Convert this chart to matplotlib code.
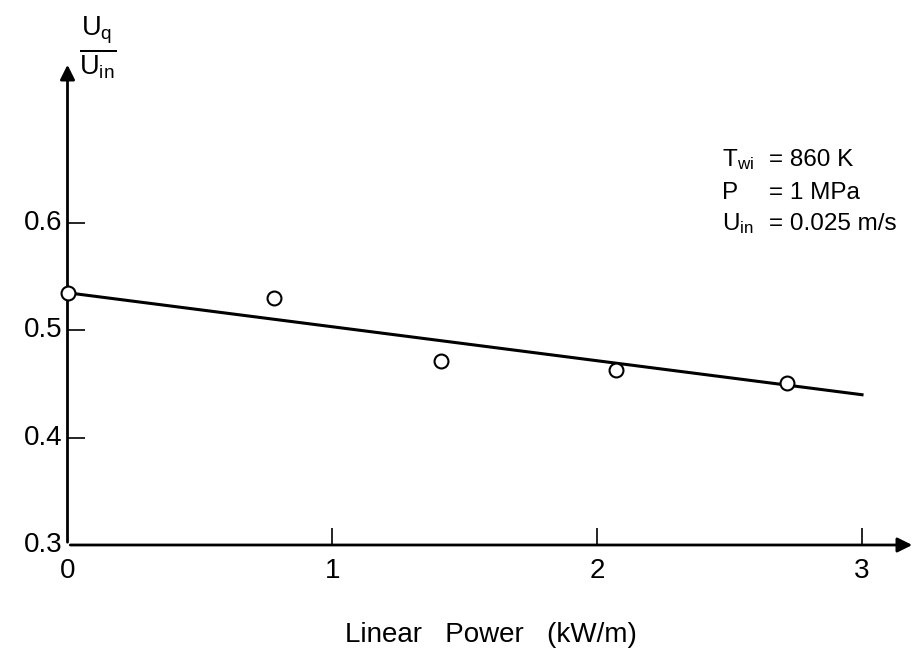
import numpy as np
import matplotlib
matplotlib.use('Agg')
import matplotlib.pyplot as plt

# data
power = [0.0, 0.78, 1.41, 2.07, 2.715]
ratio = [0.535, 0.530, 0.471, 0.4635, 0.451]
fit_x = [0.0, 3.0]
fit_y = [0.535, 0.440]
xticks = [1, 2, 3]
yticks = [0.4, 0.5, 0.6]

plt.rcParams['font.family'] = ['Liberation Sans', 'DejaVu Sans']
plt.rcParams['mathtext.fontset'] = 'custom'
plt.rcParams['mathtext.rm'] = 'Liberation Sans'
plt.rcParams['mathtext.it'] = 'Liberation Sans'

fig = plt.figure(figsize=(9.18, 6.58), dpi=100)
ax = fig.add_axes([67.5 / 918, 1 - 545 / 658, (915 - 67.5) / 918, (545 - 62) / 658])
ax.set_xlim(0, 3.2)
ax.set_ylim(0.3, 0.75)

for s in ax.spines.values():
    s.set_visible(False)

# axes with arrows
ax.annotate('', xy=(1, 0), xytext=(0, 0), xycoords='axes fraction',
            arrowprops=dict(arrowstyle='-|>', lw=2, color='black', mutation_scale=22))
ax.annotate('', xy=(0, 1), xytext=(0, 0), xycoords='axes fraction',
            arrowprops=dict(arrowstyle='-|>', lw=2, color='black', mutation_scale=22))

ax.plot(fit_x, fit_y, color='black', lw=2.2, zorder=3)
ax.plot(power, ratio, 'o', mfc='white', mec='black', mew=1.5, ms=10, zorder=4, clip_on=False)

ax.set_xticks(xticks)
ax.set_xticklabels([])
ax.set_yticks(yticks)
ax.set_yticklabels([])
ax.tick_params(direction='in', length=12, width=1.2, colors='black')

# tick labels drawn by hand so they sit like the original
for t in [0] + xticks:
    ax.text(t, 0.3 - 0.012, str(t), ha='center', va='top', fontsize=20)
for t in [0.3] + yticks:
    ax.text(-0.02, t, f'{t:.1f}', ha='right', va='center', fontsize=20, clip_on=False)

fig.text(0.535, 0.035, 'Linear   Power   (kW/m)', ha='center', va='center', fontsize=20)

fig.text(0.106, 0.928, r'$\frac{\mathrm{U_q}}{\mathrm{U_{in}}}$', ha='center', va='center', fontsize=28)

# condition block, "=" signs aligned
fig.text(0.787, 0.757, r'T$_{\mathrm{wi}}$', ha='left', va='center', fontsize=17.5)
fig.text(0.787, 0.707, 'P', ha='left', va='center', fontsize=17.5)
fig.text(0.787, 0.660, r'U$_{\mathrm{in}}$', ha='left', va='center', fontsize=17.5)
fig.text(0.838, 0.757, '= 860 K', ha='left', va='center', fontsize=17.5)
fig.text(0.838, 0.707, '= 1 MPa', ha='left', va='center', fontsize=17.5)
fig.text(0.838, 0.660, '= 0.025 m/s', ha='left', va='center', fontsize=17.5)

fig.savefig('out.png', dpi=100)
